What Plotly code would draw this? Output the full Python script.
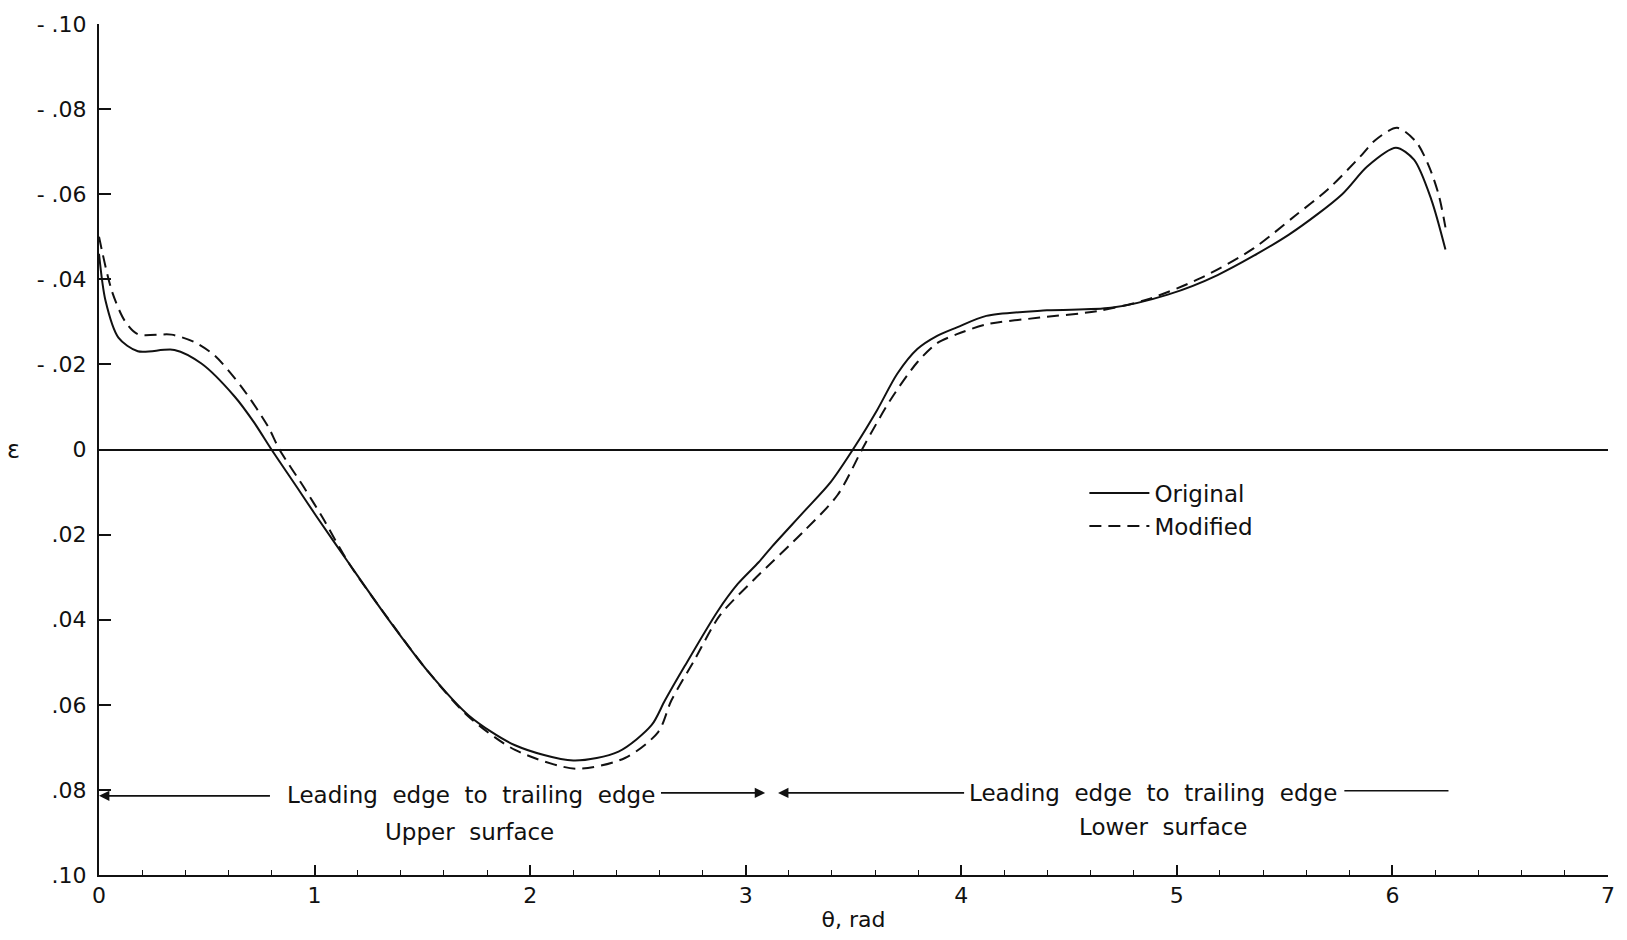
import plotly.graph_objects as go

# ---- data ----
theta_original = [0.00, 0.03, 0.09, 0.18, 0.35, 0.475, 0.63, 0.72, 0.80, 0.92,
                  1.006, 1.16, 1.345, 1.53, 1.715, 1.93, 2.20, 2.41, 2.563, 2.625,
                  2.717, 2.87, 2.963, 3.06, 3.117, 3.27, 3.395, 3.51, 3.61, 3.703,
                  3.796, 3.888, 3.98, 4.116, 4.397, 4.694, 4.958, 5.189, 5.52, 5.767,
                  5.883, 6.016, 6.10, 6.18, 6.246]
eps_original = [-0.046, -0.035, -0.0263, -0.0231, -0.0234, -0.0202, -0.0124, -0.0063, 0.0, 0.0090,
                0.0155, 0.0268, 0.0401, 0.0524, 0.0625, 0.0695, 0.0731, 0.0710, 0.0648, 0.0590,
                0.0509, 0.0380, 0.0316, 0.0265, 0.0231, 0.0146, 0.0076, -0.0010, -0.0093, -0.0178,
                -0.0236, -0.0267, -0.0287, -0.0314, -0.0327, -0.0333, -0.0364, -0.0410, -0.0505, -0.0600,
                -0.0665, -0.0709, -0.0681, -0.0588, -0.0470]

theta_modified = [0.00, 0.06, 0.12, 0.18, 0.336, 0.444, 0.536, 0.66, 0.783, 0.837,
                  0.952, 1.037, 1.16, 1.345, 1.53, 1.715, 1.93, 2.21, 2.44, 2.594,
                  2.655, 2.763, 2.88, 3.04, 3.27, 3.426, 3.549, 3.672, 3.796, 3.888,
                  3.98, 4.116, 4.364, 4.628, 4.859, 5.107, 5.354, 5.55, 5.70, 5.85,
                  5.92, 6.022, 6.11, 6.17, 6.216, 6.246]
eps_modified = [-0.050, -0.0372, -0.0302, -0.0271, -0.0270, -0.0252, -0.0221, -0.0148, -0.0055, 0.0,
                0.0090, 0.0160, 0.0268, 0.0400, 0.0524, 0.0628, 0.0706, 0.0750, 0.0725, 0.0664,
                0.0590, 0.0494, 0.0390, 0.0305, 0.0192, 0.0107, -0.0009, -0.0117, -0.0205, -0.0250,
                -0.0271, -0.0294, -0.0310, -0.0325, -0.0352, -0.0402, -0.0472, -0.0550, -0.0611, -0.0688,
                -0.0727, -0.0756, -0.0723, -0.0665, -0.0596, -0.0522]

x_ticks = [0, 1, 2, 3, 4, 5, 6, 7]
y_ticks = [-0.10, -0.08, -0.06, -0.04, -0.02, 0.0, 0.02, 0.04, 0.06, 0.08, 0.10]
y_ticktext = ["- .10", "- .08", "- .06", "- .04", "- .02", "0", ".02", ".04", ".06", ".08", ".10"]

INK = "#111111"
FONT = "DejaVu Sans"

fig = go.Figure()
fig.add_trace(go.Scatter(x=theta_original, y=eps_original, mode="lines", name="Original",
                         line=dict(color=INK, width=2, shape="spline", smoothing=0.8)))
fig.add_trace(go.Scatter(x=theta_modified, y=eps_modified, mode="lines", name="Modified",
                         line=dict(color=INK, width=2, dash="12px,7px", shape="spline", smoothing=0.8)))

ann_font = dict(family=FONT, size=23, color=INK)
annotations = [
    # upper surface arrow / labels
    dict(x=0.0, y=0.0814, ax=0.80, ay=0.0814, xref="x", yref="y", axref="x", ayref="y",
         text="", showarrow=True, arrowhead=2, arrowsize=1.3, arrowwidth=1.6, arrowcolor=INK),
    dict(x=1.725, y=0.0813, text="Leading  edge  to  trailing  edge", showarrow=False,
         xref="x", yref="y", font=ann_font),
    dict(x=3.09, y=0.0807, ax=2.60, ay=0.0807, xref="x", yref="y", axref="x", ayref="y",
         text="", showarrow=True, arrowhead=2, arrowsize=1.3, arrowwidth=1.6, arrowcolor=INK),
    dict(x=1.72, y=0.0900, text="Upper  surface", showarrow=False,
         xref="x", yref="y", font=ann_font),
    # lower surface arrow / labels
    dict(x=3.15, y=0.0807, ax=4.02, ay=0.0807, xref="x", yref="y", axref="x", ayref="y",
         text="", showarrow=True, arrowhead=2, arrowsize=1.3, arrowwidth=1.6, arrowcolor=INK),
    dict(x=4.89, y=0.0808, text="Leading  edge  to  trailing  edge", showarrow=False,
         xref="x", yref="y", font=ann_font),
    dict(x=6.26, y=0.0802, ax=5.77, ay=0.0802, xref="x", yref="y", axref="x", ayref="y",
         text="", showarrow=True, arrowhead=0, arrowwidth=1.6, arrowcolor=INK),
    dict(x=4.94, y=0.0888, text="Lower  surface", showarrow=False,
         xref="x", yref="y", font=ann_font),
    # y-axis title
    dict(x=-0.062, y=0.0, xref="paper", yref="y", text="ε", showarrow=False,
         font=dict(family=FONT, size=24, color=INK)),
]

fig.update_layout(
    width=1627, height=940,
    margin=dict(l=99, r=14, t=16, b=62),
    paper_bgcolor="white", plot_bgcolor="white",
    font=dict(family=FONT, size=22, color=INK),
    showlegend=True,
    legend=dict(x=0.653, y=0.474, xanchor="left", yanchor="top", bgcolor="rgba(0,0,0,0)",
                font=dict(family=FONT, size=23, color=INK), itemwidth=60,
                tracegroupgap=0),
    annotations=annotations,
)
fig.update_xaxes(range=[0, 7], tickvals=x_ticks, ticktext=[str(v) for v in x_ticks],
                 showline=True, linecolor=INK, linewidth=2, mirror=False,
                 ticks="inside", ticklen=10, tickwidth=1.5, tickcolor=INK,
                 minor=dict(dtick=0.2, ticks="inside", ticklen=5, tickwidth=1.2, tickcolor=INK),
                 showgrid=False, zeroline=False,
                 title=dict(text="θ, rad", font=dict(family=FONT, size=22, color=INK), standoff=4),
                 tickfont=dict(family=FONT, size=22, color=INK))
fig.update_yaxes(range=[0.10, -0.10], tickvals=y_ticks, ticktext=y_ticktext,
                 showline=True, linecolor=INK, linewidth=2, mirror=False,
                 ticks="inside", ticklen=12, tickwidth=1.5, tickcolor=INK,
                 showgrid=False, zeroline=True, zerolinecolor=INK, zerolinewidth=2,
                 ticklabelstandoff=6,
                 tickfont=dict(family=FONT, size=22, color=INK))

fig.write_html("out.html")
